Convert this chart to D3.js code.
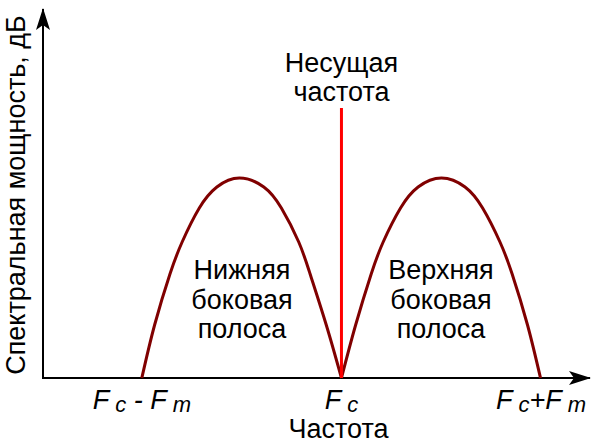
<!DOCTYPE html>
<html>
<head>
<meta charset="utf-8">
<script src="https://cdn.jsdelivr.net/npm/d3@7"></script>
<style>
  body { margin: 0; background: #fff; }
  text { font-family: "Liberation Sans", Arial, sans-serif; fill: #000; }
</style>
</head>
<body>
<svg class="chart" width="600" height="445"></svg>
<script>
// frequency in units of Fm, relative to the carrier Fc; power relative to the sideband peak
var lowerFreq = [-1, -0.936, -0.859, -0.798, -0.712, -0.624, -0.511, -0.389, -0.301, -0.214, -0.157, -0.076, 0];
var lowerPower = [0, 0.265, 0.52, 0.68, 0.85, 0.955, 1, 0.955, 0.85, 0.68, 0.52, 0.265, 0];
var upperFreq = [0, 0.071, 0.149, 0.209, 0.296, 0.384, 0.501, 0.619, 0.707, 0.794, 0.855, 0.932, 0.997];
var upperPower = [0, 0.265, 0.52, 0.68, 0.85, 0.955, 1, 0.955, 0.85, 0.68, 0.52, 0.265, 0];
var carrierFreq = 0;
var carrierPower = 1.35;

var tickValues = [-1, 0, 1];
var tickLabels = [
  [['F', 0], ['c', 1], [' - ', 0], ['F', 0], ['m', 1]],
  [['F', 0], ['c', 1]],
  [['F', 0], ['c', 1], ['+', 0], ['F', 0], ['m', 1]]
];
var carrierLabel = ['Несущая', 'частота'];
var lowerLabel = ['Нижняя', 'боковая', 'полоса'];
var upperLabel = ['Верхняя', 'боковая', 'полоса'];
var xTitle = 'Частота';
var yTitle = 'Спектральная мощность, дБ';

var svg = d3.select('.chart');

var xScale = d3.scaleLinear()
  .domain([-1.495, 1.245])
  .range([43, 590]);

var yScale = d3.scaleLinear()
  .domain([0, 1.845])
  .range([378, 9]);

// arrow marker
var defs = svg.append('defs');
defs.append('marker')
  .attr('id', 'arrow')
  .attr('viewBox', '0 0 22 14')
  .attr('refX', 21)
  .attr('refY', 7)
  .attr('markerWidth', 22)
  .attr('markerHeight', 14)
  .attr('markerUnits', 'userSpaceOnUse')
  .attr('orient', 'auto')
  .append('path')
  .attr('d', 'M0,0 L22,7 L0,14 L5,7 Z')
  .attr('fill', '#000');

// axes
svg.append('line')
  .attr('x1', xScale.range()[0] - 1).attr('y1', yScale(0))
  .attr('x2', xScale.range()[1]).attr('y2', yScale(0))
  .attr('stroke', '#000').attr('stroke-width', 2)
  .attr('marker-end', 'url(#arrow)');

svg.append('line')
  .attr('x1', xScale.range()[0]).attr('y1', yScale(0) + 1)
  .attr('x2', xScale.range()[0]).attr('y2', yScale.range()[1])
  .attr('stroke', '#000').attr('stroke-width', 2)
  .attr('marker-end', 'url(#arrow)');

// sidebands
var line = d3.line()
  .x(function (d) { return xScale(d[0]); })
  .y(function (d) { return yScale(d[1]); })
  .curve(d3.curveNatural);

var lobes = [d3.zip(lowerFreq, lowerPower), d3.zip(upperFreq, upperPower)];

svg.selectAll('path.lobe')
  .data(lobes)
  .join('path')
  .classed('lobe', true)
  .attr('d', line)
  .attr('fill', 'none')
  .attr('stroke', '#800000')
  .attr('stroke-width', 3);

// carrier
svg.append('line')
  .attr('x1', xScale(carrierFreq)).attr('y1', yScale(0))
  .attr('x2', xScale(carrierFreq)).attr('y2', yScale(carrierPower))
  .attr('stroke', '#ff0000')
  .attr('stroke-width', 3);

// tick labels
var ticks = svg.selectAll('text.tick')
  .data(tickValues)
  .join('text')
  .classed('tick', true)
  .attr('x', function (d) { return xScale(d); })
  .attr('y', 409)
  .attr('text-anchor', 'middle')
  .style('font-style', 'italic');

ticks.each(function (d, i) {
  var t = d3.select(this);
  var prevSub = 0;
  tickLabels[i].forEach(function (p) {
    var sub = p[1];
    var ts = t.append('tspan').text(p[0]);
    if (sub) {
      ts.attr('font-size', 22).attr('dx', 6);
    } else {
      ts.attr('font-size', 27);
    }
    ts.attr('dy', sub - prevSub === 1 ? 3 : (sub - prevSub === -1 ? -3 : 0));
    prevSub = sub;
  });
});

// multi-line text helper
function block(lines, x, y, step) {
  svg.append('text')
    .attr('text-anchor', 'middle')
    .attr('font-size', 27)
    .selectAll('tspan')
    .data(lines)
    .join('tspan')
    .attr('x', x)
    .attr('y', function (d, i) { return y + i * step; })
    .text(function (d) { return d; });
}

block(carrierLabel, xScale(carrierFreq), 72, 29);
block(lowerLabel, 242, 279, 29.5);
block(upperLabel, 441, 279, 29.5);

svg.append('text')
  .attr('x', xScale(0) - 3)
  .attr('y', 438)
  .attr('text-anchor', 'middle')
  .attr('font-size', 27)
  .text(xTitle);

svg.append('text')
  .attr('transform', 'translate(25,' + 195 + ') rotate(-90)')
  .attr('text-anchor', 'middle')
  .attr('font-size', 27)
  .text(yTitle);
</script>
</body>
</html>
